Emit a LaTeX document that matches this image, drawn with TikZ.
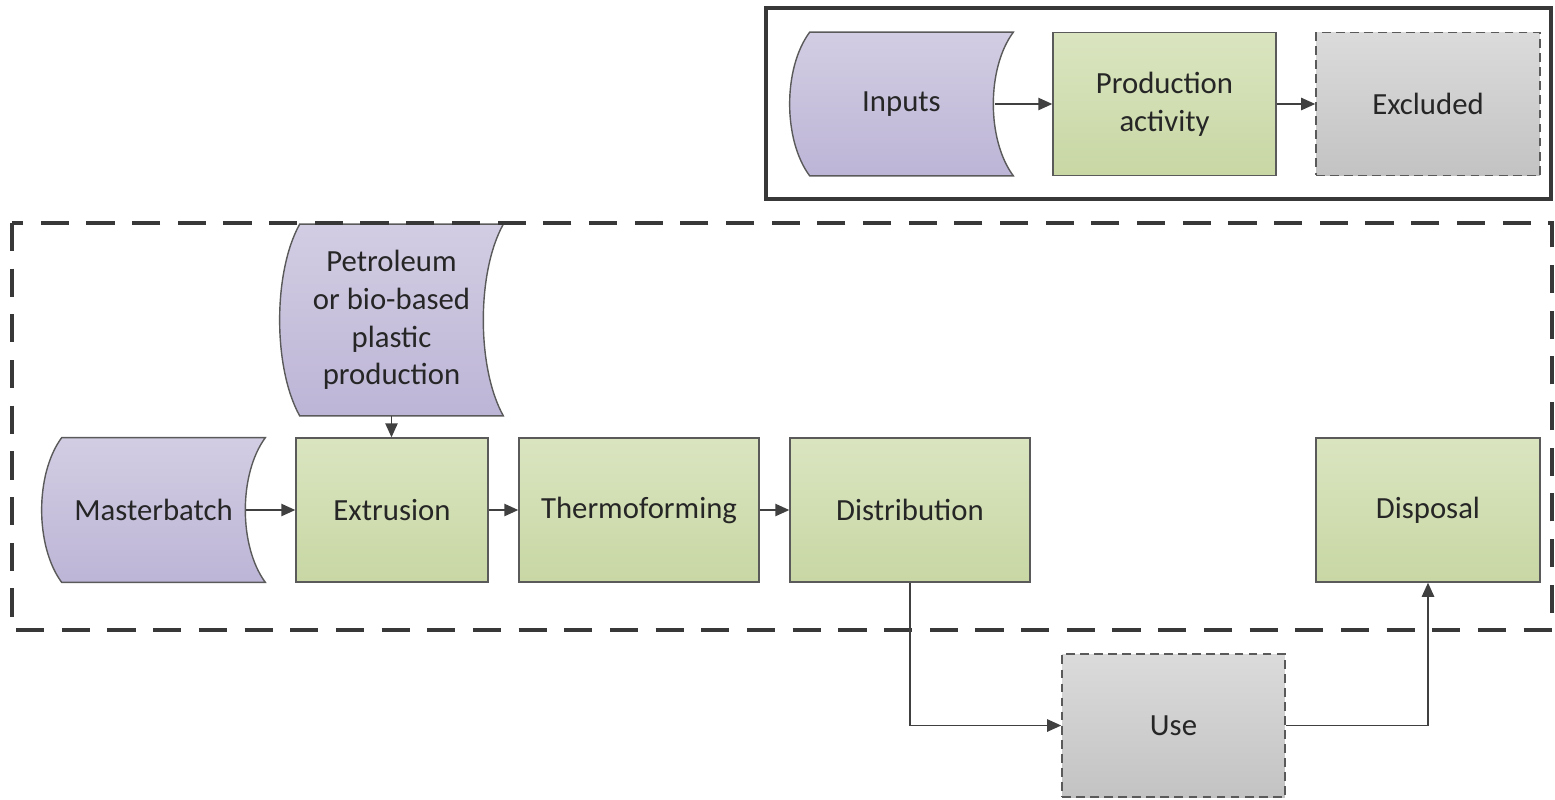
\documentclass[tikz,border=0pt]{standalone}
\usepackage{fontspec}
\setmainfont{Carlito}
\usepackage{tikz}
\usetikzlibrary{arrows.meta,positioning,calc,backgrounds}
\usepackage{xcolor}

\definecolor{edgegray}{HTML}{5A5A5A}
\definecolor{arrowgray}{HTML}{404040}
\definecolor{frame}{HTML}{383838}
\definecolor{inTop}{HTML}{D2CDE3}
\definecolor{inBot}{HTML}{BDB5D6}
\definecolor{actTop}{HTML}{DAE5C0}
\definecolor{actBot}{HTML}{C8D7A4}
\definecolor{exTop}{HTML}{DBDBDB}
\definecolor{exBot}{HTML}{C3C3C3}
\definecolor{txt}{HTML}{262626}

% curved input shape drawn behind a named node
\newcommand{\inshape}[1]{%
  \begin{scope}[on background layer]
    \path[inbox] ($(#1.north west)+(20,0)$) -- (#1.north east)
      .. controls ($(#1.north east)!0.25!(#1.south east)+(-26.7,0)$)
      and ($(#1.north east)!0.75!(#1.south east)+(-26.7,0)$) .. (#1.south east)
      -- ($(#1.south west)+(20,0)$)
      .. controls ($(#1.north west)!0.75!(#1.south west)+(-6.7,0)$)
      and ($(#1.north west)!0.25!(#1.south west)+(-6.7,0)$) .. cycle;
  \end{scope}}

\begin{document}
\begin{tikzpicture}[
  x=0.02cm, y=-0.02cm,
  base/.style={rectangle, minimum height=2.88cm, align=center, text=txt,
    font=\fontsize{17.5}{21.5}\selectfont, inner sep=0pt},
  act/.style={base, draw=edgegray, line width=0.8pt, top color=actTop, bottom color=actBot},
  excl/.style={base, draw=edgegray, line width=0.9pt, dash pattern=on 5pt off 3pt,
    top color=exTop, bottom color=exBot},
  inp/.style={base, minimum width=4.46cm},
  inbox/.style={draw=edgegray, line width=0.8pt, top color=inTop, bottom color=inBot},
  >={Triangle[length=8pt, width=7pt]},
  flow/.style={->, draw=arrowgray, line width=0.95pt}
]
  \useasboundingbox (0,0) rectangle (1555,799);

  % legend
  \draw[frame, line width=2.3pt] (766,8) rectangle (1551,199);
  \node[inp, minimum height=2.86cm] (inputs) at (901.5,104) {Inputs};
  \inshape{inputs}
  \node[act, minimum width=4.46cm, minimum height=2.86cm] (prodact) at (1164.5,104) {Production\\activity};
  \node[excl, minimum width=4.48cm, minimum height=2.86cm] (excluded) at (1428,104) {Excluded};
  \draw[flow, shorten <=-0.36cm] (inputs.east) -- (prodact.west);
  \draw[flow] (prodact) -- (excluded);

  % system boundary
  \draw[frame, line width=2pt, dash pattern=on 16pt off 10pt] (12,223) rectangle (1552,630);

  % process chain
  \node[inp, minimum height=3.82cm] (petro) at (391.5,320) {Petroleum\\or bio-based\\plastic\\production};
  \inshape{petro}
  \node[inp] (master) at (153.5,510) {Masterbatch};
  \inshape{master}
  \node[act, minimum width=3.84cm] (extrusion) at (392,510) {Extrusion};
  \node[act, minimum width=4.8cm] (thermo) at (639,510) {Thermoforming};
  \node[act, minimum width=4.8cm] (distrib) at (910,510) {Distribution};
  \node[act, minimum width=4.48cm] (disposal) at (1428,510) {Disposal};
  \node[excl, minimum width=4.46cm, minimum height=2.86cm] (use) at (1173.5,725.5) {Use};

  \draw[flow] (petro.south) -- (petro.south |- extrusion.north);
  \draw[flow, shorten <=-0.38cm] (master.east) -- (extrusion.west);
  \draw[flow] (extrusion) -- (thermo);
  \draw[flow] (thermo) -- (distrib);
  \draw[flow] (distrib.south) |- (use.west);
  \draw[flow] (use.east) -| (disposal.south);
\end{tikzpicture}
\end{document}
